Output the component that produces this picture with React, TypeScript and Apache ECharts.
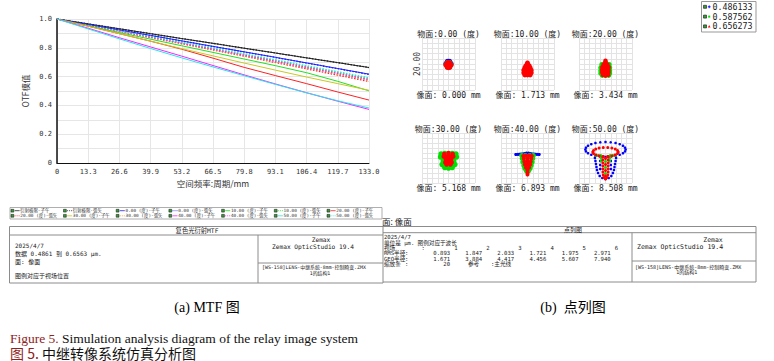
import React, { useEffect, useRef } from "react";
import * as echarts from "echarts";

// ---------------- MTF data ----------------
const freqTicks = [0, 13.3, 26.6, 39.9, 53.2, 66.5, 79.8, 93.1, 106.4, 119.7, 133.0];
const mtfNames = [
  "衍射极限-子午", "衍射极限-弧矢",
  "0.00 (度)-子午", "0.00 (度)-弧矢",
  "10.00 (度)-子午", "10.00 (度)-弧矢",
  "20.00 (度)-子午", "20.00 (度)-弧矢",
  "30.00 (度)-子午", "30.00 (度)-弧矢",
  "40.00 (度)-子午", "40.00 (度)-弧矢",
  "50.00 (度)-子午", "50.00 (度)-弧矢",
];
const mtfDiffT = [1.0, 0.966, 0.932, 0.898, 0.864, 0.831, 0.797, 0.764, 0.73, 0.697, 0.663];
const mtfDiffS = [1.0, 0.966, 0.932, 0.898, 0.864, 0.831, 0.797, 0.764, 0.73, 0.697, 0.663];
const mtf0T = [1.0, 0.962, 0.924, 0.886, 0.848, 0.81, 0.772, 0.734, 0.695, 0.656, 0.617];
const mtf0S = [1.0, 0.962, 0.924, 0.886, 0.847, 0.809, 0.771, 0.733, 0.694, 0.655, 0.615];
const mtf10T = [1.0, 0.953, 0.906, 0.86, 0.814, 0.768, 0.722, 0.676, 0.627, 0.567, 0.501];
const mtf10S = [1.0, 0.959, 0.918, 0.877, 0.836, 0.795, 0.754, 0.712, 0.67, 0.628, 0.586];
const mtf20T = [1.0, 0.95, 0.898, 0.846, 0.79, 0.728, 0.664, 0.607, 0.551, 0.493, 0.437];
const mtf20S = [1.0, 0.957, 0.914, 0.871, 0.828, 0.785, 0.742, 0.698, 0.654, 0.61, 0.566];
const mtf30T = [1.0, 0.95, 0.898, 0.846, 0.794, 0.744, 0.694, 0.645, 0.597, 0.551, 0.505];
const mtf30S = [1.0, 0.958, 0.916, 0.873, 0.831, 0.788, 0.745, 0.702, 0.66, 0.617, 0.574];
const mtf40T = [1.0, 0.936, 0.87, 0.806, 0.742, 0.677, 0.612, 0.549, 0.488, 0.429, 0.372];
const mtf40S = [1.0, 0.958, 0.917, 0.875, 0.833, 0.791, 0.749, 0.707, 0.664, 0.622, 0.579];
const mtf50T = [1.0, 0.931, 0.862, 0.795, 0.73, 0.667, 0.606, 0.546, 0.487, 0.432, 0.382];
const mtf50S = [1.0, 0.96, 0.92, 0.88, 0.839, 0.799, 0.758, 0.717, 0.676, 0.634, 0.592];

// ---------------- Spot diagram data (µm-ish, y up) ----------------
const spotFields = ["0.00", "10.00", "20.00", "30.00", "40.00", "50.00"];
const imageHeights = ["0.000", "1.713", "3.434", "5.168", "6.893", "8.508"];
const wavelengths = ["0.486133", "0.587562", "0.656273"];
const fieldNumbers = ["1", "2", "3", "4", "5", "6"];
const rmsRadius = ["0.893", "1.847", "2.033", "1.721", "1.975", "2.971"];
const geoRadius = ["1.671", "3.884", "4.417", "4.456", "5.607", "7.940"];

const spot0Blue = [[0, 0.3], [2.5, 0.3], [-2.5, 0.3], [1.25, 2.5], [-1.25, 2.5], [1.25, -1.9], [-1.25, -1.9], [0, 2.6]];
const spot0Green = [[0, -0.6], [2.4, -0.6], [-2.4, -0.6], [1.2, 1.5], [-1.2, 1.5], [1.2, -2.7], [-1.2, -2.7]];
const spot0Red = [[0, -1], [2.5, -1], [-2.5, -1], [1.25, 1.17], [-1.25, 1.17], [1.25, -3.17], [-1.25, -3.17], [0, 1.5], [0, -3.5]];

const spot10Blue = [[0, 0], [0, -4], [-2, -8], [2, -8], [0, -10]];
const spot10Green = [[0, -3], [-2, -7], [2, -7], [0, -10]];
const spot10Red = [[0, 1], [0, -0.5], [-1.5, -1.5], [1.5, -1.5], [-2.5, -3.5], [0, -3.5], [2.5, -3.5], [-3.5, -6], [0, -6], [3.5, -6], [-3.5, -8.5], [-1.2, -8.5], [1.2, -8.5], [3.5, -8.5], [-2.5, -10.5], [0, -10.5], [2.5, -10.5]];

const spot20Blue = [[0, 0], [0, -5], [0, -9]];
const spot20Green = [[0, 1.5], [-3.5, -0.5], [3.5, -0.5], [-4.5, -3.5], [0, -3.5], [4, -3.5], [-4.5, -6.5], [0, -6.5], [4, -6.5], [-4.5, -9], [4, -9], [-3, -11], [0, -11], [3, -11]];
const spot20Red = [[0, 3.2], [0, 1.5], [-1.8, -0.5], [1.8, -0.5], [-3, -3], [0, -3], [3, -3], [-3.2, -5.5], [0, -5.5], [2.8, -5.5], [-3.2, -8], [0, -8], [2.8, -8], [-2.5, -10.5], [0, -11], [2.5, -10.5]];

const spot30Blue = [[0, 0], [0, -5]];
const spot30Green = [[-7, 4], [7, 4], [-3.5, 4.5], [3.5, 4.5], [0, 3.5], [-7.5, 1], [7.5, 1], [-3.5, 1], [0, 0], [3.5, 1], [-5, -3], [0, -3], [5, -3], [-6, -6.5], [6, -6.5], [-2.5, -7], [2.5, -7], [-3.5, -9.5], [0, -10], [3.5, -9.5]];
const spot30Red = [[-4, 4], [0, 5], [4, 4], [-4.5, 1.5], [-1.5, 1.5], [1.5, 1.5], [4.5, 1.5], [-2.5, -1.5], [0, -1.5], [2.5, -1.5], [-3, -4.5], [0, -4.5], [3, -4.5], [-1.8, -6.5], [1.8, -6.5]];

const spot40Blue = [[-11, 3.5], [-9, 3.6], [-7, 3.8], [-5, 4], [-3, 4.3], [-1, 4.8], [1, 4.8], [3, 4.3], [5, 4], [7, 3.8], [9, 3.6], [11, 3.5], [0, 4], [-1.5, 3], [1.5, 3], [0, 2.5]];
const spot40Green = [[-5.5, 2.5], [-2, 2.5], [2, 2.5], [5.5, 2.5], [-5, -0.5], [0, -0.5], [5, -0.5], [-4.5, -4], [0, -4], [4.5, -4], [-3.5, -7.5], [0, -7.5], [3.5, -7.5], [-2.5, -10.5], [0, -11], [2.5, -10.5], [-1, -13], [1, -13]];
const spot40Red = [[-4, 2], [-1.5, 2.5], [1.5, 2.5], [4, 2], [-3.5, -0.5], [0, -0.5], [3.5, -0.5], [-3, -3.5], [0, -3.5], [3, -3.5], [-2.5, -6.5], [0, -6.5], [2.5, -6.5], [-1.5, -9.5], [1.5, -9.5], [0, -12], [0, -14.5], [0, -16.5]];

const spot50Blue = [
  [19, 8.5], [18.4, 10.4], [16.5, 12.25], [13.4, 13.8], [9.5, 15], [4.9, 15.7], [0, 16], [-4.9, 15.7], [-9.5, 15], [-13.4, 13.8], [-16.5, 12.25], [-18.4, 10.4],
  [-19, 8.5], [-18.4, 6.6], [-16.5, 4.75], [-13.4, 3.2], [-9.5, 2], [-4.9, 1.3], [0, 1], [4.9, 1.3], [9.5, 2], [13.4, 3.2], [16.5, 4.75], [18.4, 6.6],
  [-10, 0], [-9.5, -3], [-9, -6], [-8.5, -9], [-8, -12], [-7, -15], [-5.5, -18], [-3, -20], [0, -21], [3, -20], [5.5, -18], [7, -15], [8, -12], [8.5, -9], [9, -6], [9.5, -3], [10, 0],
  [-5, -3], [-5, -7], [-5, -11], [5, -3], [5, -7], [5, -11],
];
const spot50Green = [[-9.5, 2.5], [-7, 2.5], [-4.5, 2.5], [4.5, 2.5], [7, 2.5], [9.5, 2.5], [-4, 0], [4, 0], [-4, -3], [4, -3], [0, -3.5], [0, -9.5], [0, -15.5]];
const spot50Red = [
  [12, 6], [11.3, 7.5], [9.2, 8.9], [6, 9.9], [2.1, 10.4], [-2.1, 10.4], [-6, 9.9], [-9.2, 8.9], [-11.3, 7.5], [-12, 6], [-11.3, 4.5], [-9.2, 3.1], [-6, 2.1], [-2.1, 1.6], [2.1, 1.6], [6, 2.1], [9.2, 3.1], [11.3, 4.5],
  [-2.5, 1], [2.5, 1], [-2.5, -2], [2.5, -2], [-2.5, -5], [2.5, -5], [-2.5, -8], [2.5, -8], [-2.5, -11], [2.5, -11], [-2.5, -14], [2.5, -14], [-2.2, -17], [2.2, -17], [-1.5, -19.5], [1.5, -19.5],
  [0, -0.5], [0, -6.5], [0, -12.5], [0, -18], [0, -21],
];

// ---------------- styles ----------------
const mono = "'DejaVu Sans Mono', 'Noto Sans CJK SC', monospace";
const cjk = "'Noto Sans CJK SC', sans-serif";
const serif = "'Liberation Serif', 'Noto Sans CJK SC', serif";
const mtfColors = ["#222", "#222", "#2020ff", "#2020ff", "#20e020", "#20e020", "#ff2020", "#ff2020", "#c8c820", "#e0a030", "#ff20ff", "#ff20ff", "#20e8e8", "#20e8e8"];
const spotColors = ["#0000ff", "#00e000", "#ff0000"];
const spotSizes = [[5, 5, 5], [4, 4, 5], [4, 5, 4.5], [4, 5.5, 4.5], [3.2, 5, 4], [2.6, 3, 3]];
const spotBoxes = [[422, 38, 53, 52], [501, 38, 53, 52], [579, 38, 53, 52], [422, 133, 53, 50], [501, 133, 53, 50], [579, 133, 53, 50]];

function txt(x: number, y: number, text: string, size: number, extra: any = {}) {
  return { type: "text", x, y, silent: true, style: { text, fontSize: size, fontFamily: mono, fill: "#1a1a1a", align: "left", verticalAlign: "middle", ...extra } };
}
function ln(x1: number, y1: number, x2: number, y2: number, stroke = "#8c8c8c", w = 1) {
  return { type: "line", silent: true, shape: { x1, y1, x2, y2 }, style: { stroke, lineWidth: w } };
}

function buildOption() {
  const mtfArrays = [mtfDiffT, mtfDiffS, mtf0T, mtf0S, mtf10T, mtf10S, mtf20T, mtf20S, mtf30T, mtf30S, mtf40T, mtf40S, mtf50T, mtf50S];
  const spotData = [
    [spot0Blue, spot0Green, spot0Red],
    [spot10Blue, spot10Green, spot10Red],
    [spot20Blue, spot20Green, spot20Red],
    [spot30Blue, spot30Green, spot30Red],
    [spot40Blue, spot40Green, spot40Red],
    [spot50Blue, spot50Green, spot50Red],
  ];

  const grids: any[] = [{ left: 57, top: 19, width: 312, height: 144 }];
  const xAxes: any[] = [{
    type: "value", gridIndex: 0, min: 0, max: 133, interval: 13.3,
    name: "空间频率:周期/mm", nameLocation: "middle", nameGap: 16,
    nameTextStyle: { fontFamily: cjk, fontSize: 8.5, color: "#333" },
    axisLine: { show: true, lineStyle: { color: "#111", width: 1 } },
    axisTick: { show: false },
    axisLabel: { fontFamily: mono, fontSize: 7, color: "#333", margin: 5, formatter: (v: number) => (v === 0 ? "0" : v.toFixed(1)) },
    splitLine: { show: true, lineStyle: { color: "#e6e6e6" } },
  }];
  const yAxes: any[] = [{
    type: "value", gridIndex: 0, min: 0, max: 1, interval: 0.1,
    name: "OTF模值", nameLocation: "middle", nameGap: 28,
    nameTextStyle: { fontFamily: cjk, fontSize: 8.5, color: "#333" },
    axisLine: { show: true, lineStyle: { color: "#111", width: 1.5 } },
    axisTick: { show: false },
    axisLabel: {
      fontFamily: mono, fontSize: 7, color: "#333", margin: 5,
      formatter: (v: number) => { const k = Math.round(v * 10); if (k % 2) return ""; return k === 0 ? "0" : (k / 10).toFixed(1); },
    },
    splitLine: { show: true, lineStyle: { color: "#e6e6e6" } },
  }];

  spotBoxes.forEach((b, i) => {
    grids.push({ left: b[0], top: b[1], width: b[2], height: b[3] });
    const ax = {
      type: "value", gridIndex: i + 1, min: -25, max: 25, interval: 5,
      axisLine: { show: false }, axisTick: { show: false }, axisLabel: { show: false },
      splitLine: { show: true, lineStyle: { color: "#e3e3e3" } },
    };
    xAxes.push({ ...ax });
    yAxes.push({ ...ax });
  });

  const series: any[] = [];
  mtfArrays.forEach((arr, i) => {
    series.push({
      type: "line", name: mtfNames[i], xAxisIndex: 0, yAxisIndex: 0,
      data: freqTicks.map((f, j) => [f, arr[j]]),
      symbol: "none", showSymbol: false, silent: true,
      lineStyle: { color: mtfColors[i], width: i % 2 ? 1.3 : 1, type: i % 2 ? [1.5, 1.5] : "solid" },
      z: i % 2 ? 2 : 3,
    });
  });
  spotData.forEach((sets, f) => {
    sets.forEach((pts, w) => {
      series.push({
        type: "scatter", xAxisIndex: f + 1, yAxisIndex: f + 1, data: pts,
        symbol: "circle", symbolSize: spotSizes[f][w], silent: true,
        itemStyle: { color: spotColors[w], opacity: 1 }, z: 2 + w,
      });
    });
  });

  const g: any[] = [];
  // MTF legend box
  g.push({ type: "rect", silent: true, shape: { x: 10, y: 207.5, width: 372, height: 11.5 }, style: { fill: "none", stroke: "#9a9a9a", lineWidth: 0.8 } });
  const legCols = [11, 63.5, 116.2, 168.9, 221.6, 274.3, 327];
  const legRows = [210.7, 215.8];
  mtfNames.forEach((n, i) => {
    const cx = legCols[i % 7];
    const cy = legRows[Math.floor(i / 7)];
    g.push({ type: "rect", silent: true, shape: { x: cx, y: cy - 1.4, width: 2.8, height: 2.8 }, style: { fill: "#3a9a3a", stroke: "#111", lineWidth: 0.5 } });
    g.push({ type: "line", silent: true, shape: { x1: cx + 3.6, y1: cy, x2: cx + 8.6, y2: cy }, style: { stroke: mtfColors[i], lineWidth: 0.8, lineDash: i % 2 ? [1, 1] : null } });
    g.push(txt(cx + 9.3, cy, n, 4.4, { fill: "#333" }));
  });

  // Left table (MTF)
  g.push({ type: "rect", silent: true, shape: { x: 9.5, y: 226.5, width: 373.5, height: 56.5 }, style: { fill: "none", stroke: "#8c8c8c", lineWidth: 1 } });
  g.push(ln(9.5, 235, 383, 235));
  g.push(ln(258, 235, 258, 283));
  g.push(ln(258, 263, 383, 263));
  g.push(txt(197, 230.8, "复色光衍射MTF", 6.3, { align: "center" }));
  g.push(txt(15, 245.5, "2025/4/7", 6));
  g.push(txt(15, 253.5, "数据 0.4861 到 0.6563 μm.", 6));
  g.push(txt(15, 261, "面: 像面", 6));
  g.push(txt(15, 275.5, "图例对应于视场位置", 6));
  g.push(txt(321, 239, "Zemax", 6.2, { align: "center" }));
  g.push(txt(272, 246.8, "Zemax OpticStudio 19.4", 6.2));
  g.push(txt(262, 267, "[WS-158]LENS-中继系统-8mm-控制畸变.ZMX", 4.9));
  g.push(txt(320, 272.8, "1的结构1", 4.9, { align: "center" }));

  // Right panel partial label
  g.push(txt(382, 221, "面: 像面", 8.5, { fontFamily: cjk }));

  // Right table (spot)
  g.push(ln(383, 226.5, 756, 226.5));
  g.push(ln(756, 226.5, 756, 282));
  g.push(ln(383, 282, 756, 282));
  g.push(ln(383, 232.7, 756, 232.7));
  g.push(ln(632, 232.7, 632, 282));
  g.push(ln(632, 261, 756, 261));
  g.push(txt(573, 229.8, "点列图", 6, { align: "center" }));
  g.push(txt(384, 237.3, "2025/4/7", 5.6));
  g.push(txt(384, 242.7, "单位是 μm. 图例对应于波长", 5.6));
  g.push(txt(384, 248, "视场", 5.6));
  g.push(txt(423.3, 248, ":", 5.6, { align: "center" }));
  g.push(txt(384, 253.3, "RMS半径", 5.6));
  g.push(txt(406.7, 253.3, ":", 5.6, { align: "center" }));
  g.push(txt(384, 258.7, "GEO半径", 5.6));
  g.push(txt(406.7, 258.7, ":", 5.6, { align: "center" }));
  g.push(txt(384, 264.3, "缩放条", 5.6));
  g.push(txt(406.7, 264.3, ":", 5.6, { align: "center" }));
  const numX = [441.7, 473.7, 505.7, 537.9, 570.1, 602.3];
  fieldNumbers.forEach((s, i) => g.push(txt(numX[i] + 14.2, 248, s, 5.6, { align: "center" })));
  rmsRadius.forEach((s, i) => g.push(txt(numX[i], 253.3, s, 5.6, { align: "center" })));
  geoRadius.forEach((s, i) => g.push(txt(numX[i], 258.7, s, 5.6, { align: "center" })));
  g.push(txt(446.7, 264.3, "20", 5.6, { align: "center" }));
  g.push(txt(468, 264.3, "参考", 5.6));
  g.push(txt(491, 264.3, ":主光线", 5.6));
  g.push(txt(713, 240, "Zemax", 6.5, { align: "center" }));
  g.push(txt(637, 247.3, "Zemax OpticStudio 19.4", 6.5));
  g.push(txt(635, 266.7, "[WS-158]LENS-中继系统-8mm-控制畸变.ZMX", 5));
  g.push(txt(686.7, 271.8, "1的结构1", 5, { align: "center" }));

  // Spot titles and image heights
  spotBoxes.forEach((b, i) => {
    const cx = b[0] + b[2] / 2;
    g.push(txt(cx, b[1] - 3.5, "物面:" + spotFields[i] + " (度)", 8, { align: "center" }));
    g.push(txt(cx, b[1] + b[3] + 5, "像面: " + imageHeights[i] + " mm", 8, { align: "center" }));
  });
  // scale bar
  g.push(ln(422.5, 53, 422.5, 90, "#555", 1));
  g.push({ type: "text", x: 417.5, y: 64, rotation: Math.PI / 2, silent: true, style: { text: "20.00", fontSize: 8, fontFamily: mono, fill: "#333", align: "center", verticalAlign: "middle" } });

  // Spot legend (wavelengths)
  g.push({ type: "rect", silent: true, shape: { x: 701.5, y: 1.5, width: 54.5, height: 30.5 }, style: { fill: "#fff", stroke: "#999", lineWidth: 1 } });
  const wlY = [6.8, 16.6, 26.4];
  wavelengths.forEach((w, i) => {
    const y = wlY[i];
    g.push({ type: "rect", silent: true, shape: { x: 703.5, y: y - 1.5, width: 3, height: 3 }, style: { fill: "#3a9a3a", stroke: "#111", lineWidth: 0.6 } });
    if (i === 0) {
      g.push(ln(707.8, y, 710.6, y, spotColors[0], 0.9));
      g.push(ln(709.2, y - 1.4, 709.2, y + 1.4, spotColors[0], 0.9));
    } else if (i === 1) {
      g.push({ type: "rect", silent: true, shape: { x: 708.2, y: y - 1, width: 2, height: 2 }, style: { fill: spotColors[1] } });
    } else {
      g.push({ type: "polygon", silent: true, shape: { points: [[709.2, y - 1.3], [710.5, y + 1], [707.9, y + 1]] }, style: { fill: spotColors[2] } });
    }
    g.push(txt(712.5, y, w, 8.3, { fill: "#222" }));
  });

  // Captions
  g.push(txt(207, 307, "(a) MTF 图", 14, { align: "center", fontFamily: serif, fill: "#000" }));
  g.push(txt(573, 307, "(b)  点列图", 14, { align: "center", fontFamily: serif, fill: "#000" }));
  g.push({
    type: "text", x: 10, y: 338, silent: true,
    style: {
      text: "{r|Figure 5.} Simulation analysis diagram of the relay image system",
      fontSize: 13.5, fontFamily: serif, fill: "#111", verticalAlign: "middle",
      rich: { r: { fill: "#8e2323", fontSize: 13.5, fontFamily: serif } },
    },
  });
  g.push({
    type: "text", x: 10, y: 352.5, silent: true,
    style: {
      text: "{r|图 5.} 中继转像系统仿真分析图",
      fontSize: 14, fontFamily: cjk, fill: "#111", verticalAlign: "middle",
      rich: { r: { fill: "#8e2323", fontSize: 14, fontFamily: cjk } },
    },
  });

  return {
    animation: false,
    backgroundColor: "#fff",
    grid: grids,
    xAxis: xAxes,
    yAxis: yAxes,
    series,
    graphic: g,
  };
}

export default function App() {
  const ref = useRef<HTMLDivElement>(null);
  useEffect(() => {
    if (!ref.current) return;
    const chart = echarts.init(ref.current, null, { renderer: "svg" });
    chart.setOption(buildOption() as any);
    return () => chart.dispose();
  }, []);
  return <div ref={ref} style={{ position: "fixed", left: 0, top: 0, width: 774, height: 361, background: "#fff" }} />;
}
